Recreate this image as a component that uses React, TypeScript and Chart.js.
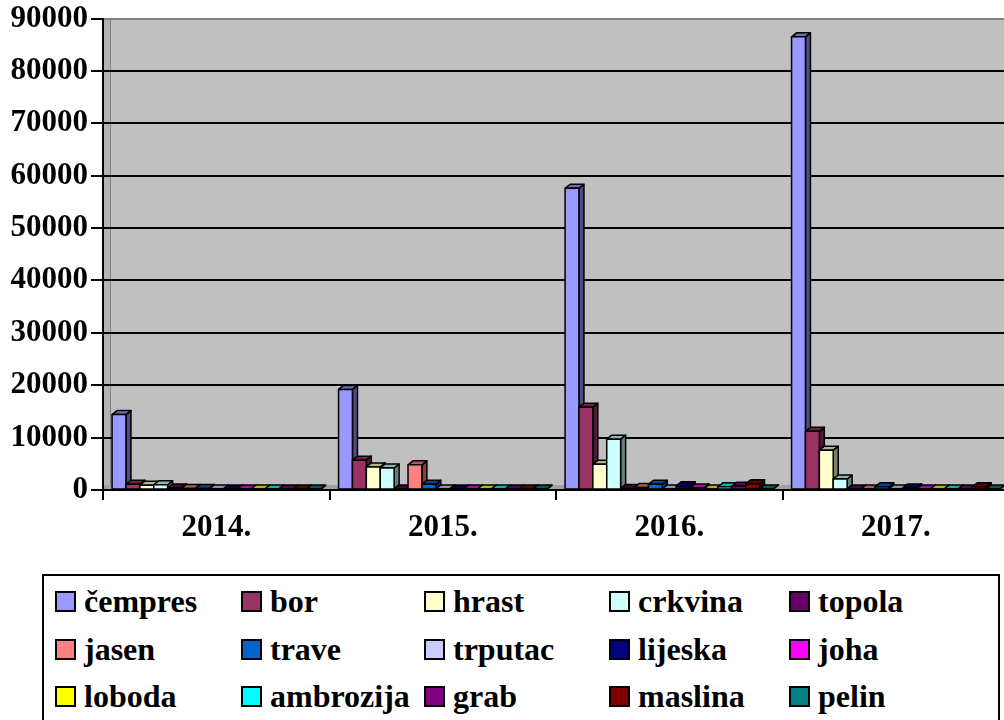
import React, { useEffect, useRef } from "react";
import { Chart, registerables } from "chart.js";
Chart.register(...registerables);

const categories = ["2014.", "2015.", "2016.", "2017."];
const seriesNames = [
  "čempres", "bor", "hrast", "crkvina", "topola",
  "jasen", "trave", "trputac", "lijeska", "joha",
  "loboda", "ambrozija", "grab", "maslina", "pelin",
];
const cempres = [14400, 19200, 57600, 86500];
const bor = [1100, 5700, 15800, 11200];
const hrast = [900, 4400, 4900, 7600];
const crkvina = [1000, 4200, 9700, 2100];
const topola = [400, 200, 300, 200];
const jasen = [300, 4800, 500, 200];
const trave = [300, 1100, 1100, 600];
const trputac = [100, 100, 100, 100];
const lijeska = [60, 200, 800, 400];
const joha = [50, 150, 400, 200];
const loboda = [50, 100, 200, 200];
const ambrozija = [50, 150, 600, 200];
const grab = [50, 100, 700, 200];
const maslina = [50, 200, 1200, 600];
const pelin = [50, 100, 200, 200];
const seriesValues = [
  cempres, bor, hrast, crkvina, topola,
  jasen, trave, trputac, lijeska, joha,
  loboda, ambrozija, grab, maslina, pelin,
];
const seriesColors = [
  "#9999FF", "#993366", "#FFFFCC", "#CCFFFF", "#660066",
  "#FF8080", "#0066CC", "#CCCCFF", "#000080", "#FF00FF",
  "#FFFF00", "#00FFFF", "#800080", "#800000", "#008080",
];
const yTickValues = [0, 10000, 20000, 30000, 40000, 50000, 60000, 70000, 80000, 90000];

const FONT = "'Liberation Serif', 'Times New Roman', serif";
const DX = 5;
const DY = 4;

function shade(hex: string, f: number): string {
  const n = parseInt(hex.slice(1), 16);
  const r = Math.round(((n >> 16) & 255) * f);
  const g = Math.round(((n >> 8) & 255) * f);
  const b = Math.round((n & 255) * f);
  return `rgb(${r},${g},${b})`;
}

const bar3d = {
  id: "bar3d",
  beforeDraw(chart: any) {
    const { ctx, chartArea: a } = chart;
    ctx.save();
    ctx.fillStyle = "#C0C0C0";
    ctx.fillRect(a.left, a.top, a.right - a.left, a.bottom - a.top);
    // left side wall
    ctx.fillStyle = "#B4B4B4";
    ctx.fillRect(a.left, a.top, 7, a.bottom - a.top);
    ctx.strokeStyle = "#808080";
    ctx.lineWidth = 1;
    ctx.beginPath();
    ctx.moveTo(a.left + 7.5, a.top);
    ctx.lineTo(a.left + 7.5, a.bottom - 5);
    ctx.stroke();
    // floor
    ctx.fillStyle = "#A0A0A0";
    ctx.fillRect(a.left, a.bottom - 5, a.right - a.left, 5);
    ctx.restore();
  },
  afterDatasetsDraw(chart: any) {
    const ctx = chart.ctx;
    ctx.save();
    ctx.lineWidth = 1.5;
    ctx.strokeStyle = "#000";
    ctx.lineJoin = "round";
    chart.data.datasets.forEach((ds: any, i: number) => {
      const meta = chart.getDatasetMeta(i);
      const col = ds.backgroundColor as string;
      meta.data.forEach((el: any) => {
        const { x, y, base, width } = el.getProps(["x", "y", "base", "width"], true);
        const l = x - width / 2;
        const r = x + width / 2;
        const top = Math.min(y, base);
        const bot = Math.max(y, base);
        // side face
        ctx.beginPath();
        ctx.moveTo(r, top);
        ctx.lineTo(r + DX, top - DY);
        ctx.lineTo(r + DX, bot - DY);
        ctx.lineTo(r, bot);
        ctx.closePath();
        ctx.fillStyle = shade(col, 0.5);
        ctx.fill();
        ctx.stroke();
        // top face
        ctx.beginPath();
        ctx.moveTo(l, top);
        ctx.lineTo(l + DX, top - DY);
        ctx.lineTo(r + DX, top - DY);
        ctx.lineTo(r, top);
        ctx.closePath();
        ctx.fillStyle = shade(col, 0.7);
        ctx.fill();
        ctx.stroke();
        // front face
        ctx.fillStyle = col;
        ctx.fillRect(l, top, r - l, bot - top);
        ctx.strokeRect(l, top, r - l, bot - top);
      });
    });
    ctx.restore();
  },
};

const swatchLefts = [55, 241, 424, 609, 789];
const rowCenters = [601, 649, 696];

export default function App() {
  const canvasRef = useRef<HTMLCanvasElement | null>(null);

  useEffect(() => {
    if (!canvasRef.current) return;
    const chart = new Chart(canvasRef.current, {
      type: "bar",
      data: {
        labels: categories,
        datasets: seriesNames.map((name, i) => ({
          label: name,
          data: seriesValues[i],
          backgroundColor: seriesColors[i],
          borderWidth: 0,
          categoryPercentage: 0.92,
          barPercentage: 1,
        })),
      },
      options: {
        responsive: false,
        animation: false,
        layout: { padding: { top: 17, right: 3, left: 0, bottom: 0 } },
        plugins: {
          legend: { display: false },
          tooltip: { enabled: false },
        },
        scales: {
          x: {
            offset: true,
            grid: {
              display: true,
              drawOnChartArea: false,
              drawTicks: true,
              tickLength: 10,
              color: "#000",
              lineWidth: 2,
            },
            border: { display: true, color: "#000", width: 2 },
            ticks: {
              color: "#000",
              font: { family: FONT, size: 31, weight: "bold", lineHeight: 1.2 },
              padding: 9,
            },
            afterFit(scale: any) {
              scale.height = 80;
            },
          },
          y: {
            min: 0,
            max: 90000,
            afterBuildTicks(scale: any) {
              scale.ticks = yTickValues.map((v) => ({ value: v }));
            },
            grid: {
              color: (c: any) => (c.tick && c.tick.value === 90000 ? "#808080" : "#000"),
              lineWidth: 2,
              tickLength: 12,
              tickColor: "#000",
            },
            border: { display: true, color: "#000", width: 2 },
            ticks: {
              color: "#000",
              font: { family: FONT, size: 31, weight: "bold", lineHeight: 1 },
              padding: 3,
              callback: (v: any) => String(v),
            },
            afterFit(scale: any) {
              scale.width = 103;
            },
          },
        },
      },
      plugins: [bar3d],
    });
    return () => chart.destroy();
  }, []);

  return (
    <div
      style={{
        position: "fixed",
        left: 0,
        top: 0,
        width: 1004,
        height: 720,
        overflow: "hidden",
        background: "#fff",
      }}
    >
      <canvas
        ref={canvasRef}
        width={1012}
        height={570}
        style={{ position: "absolute", left: 0, top: 0, width: 1012, height: 570, display: "block" }}
      />
      <div
        style={{
          position: "absolute",
          left: 42,
          top: 574,
          width: 958,
          height: 170,
          border: "2px solid #000",
          boxSizing: "border-box",
          background: "#fff",
        }}
      />
      {seriesNames.map((name, i) => {
        const col = i % 5;
        const row = Math.floor(i / 5);
        return (
          <div
            key={name}
            style={{
              position: "absolute",
              left: swatchLefts[col],
              top: rowCenters[row] - 20,
              height: 40,
              display: "flex",
              alignItems: "center",
              whiteSpace: "nowrap",
            }}
          >
            <span
              style={{
                display: "inline-block",
                width: 21,
                height: 21,
                boxSizing: "border-box",
                border: "2px solid #000",
                background: seriesColors[i],
                marginRight: 8,
              }}
            />
            <span
              style={{
                fontFamily: FONT,
                fontWeight: "bold",
                fontSize: 32,
                lineHeight: "40px",
                color: "#000",
              }}
            >
              {name}
            </span>
          </div>
        );
      })}
    </div>
  );
}
